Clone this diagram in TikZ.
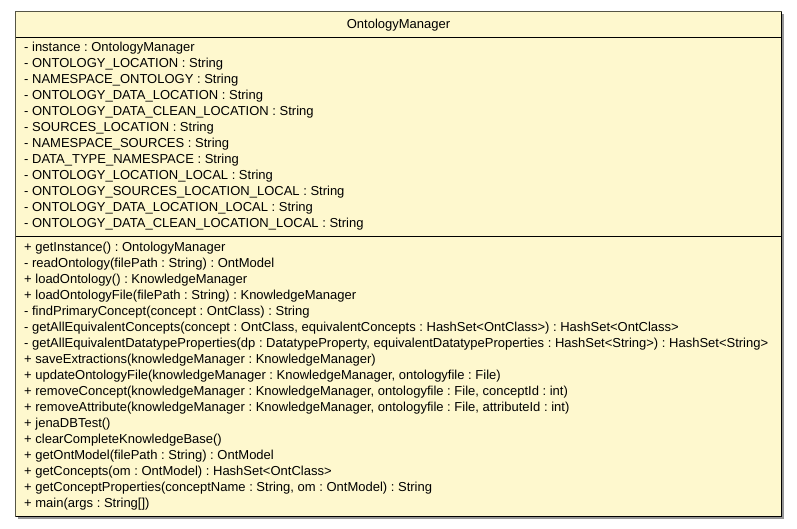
\documentclass[tikz,border=0pt]{standalone}
\usepackage{fontspec}
\setmainfont{Liberation Sans}
\usetikzlibrary{positioning, calc}
\definecolor{classfill}{RGB}{254, 248, 206}
\definecolor{edgeolive}{RGB}{86, 86, 70}
\definecolor{shadowgray}{RGB}{150, 150, 150}
\tikzset{
  member/.style={anchor=base west, inner sep=0pt, font=\fontsize{13}{16}\selectfont\frenchspacing},
  divider/.style={black, line width=1pt},
}

\begin{document}
\begin{tikzpicture}[x=1pt, y=-1pt]
  \useasboundingbox (0,0) rectangle (797,528);

  % Shadow and class box
  \fill[shadowgray] (18,14) rectangle (784,519);
  \node[fill=classfill, inner sep=0pt, minimum width=766pt, minimum height=505pt, anchor=north west] (box) at (15.5,11.5) {};
  \draw[edgeolive, line width=1.6pt] (box.south west) -- (box.north west) -- (box.north east);
  \draw[black, line width=1pt] (box.north east) -- (box.south east) -- (box.south west);

  % Compartments
  \coordinate (cut1) at (15.5,37);
  \coordinate (cut2) at (15.5,236);
  \draw[divider] (box.west |- cut1) -- (box.east |- cut1);
  \draw[divider] (box.west |- cut2) -- (box.east |- cut2);

  % Class name
  \node[member, anchor=base] (title) at (398.5,28) {OntologyManager};

  % Attributes
  \foreach \txt [count=\i from 0] in {
    {- instance : OntologyManager},
    {- ONTOLOGY\_LOCATION : String},
    {- NAMESPACE\_ONTOLOGY : String},
    {- ONTOLOGY\_DATA\_LOCATION : String},
    {- ONTOLOGY\_DATA\_CLEAN\_LOCATION : String},
    {- SOURCES\_LOCATION : String},
    {- NAMESPACE\_SOURCES : String},
    {- DATA\_TYPE\_NAMESPACE : String},
    {- ONTOLOGY\_LOCATION\_LOCAL : String},
    {- ONTOLOGY\_SOURCES\_LOCATION\_LOCAL : String},
    {- ONTOLOGY\_DATA\_LOCATION\_LOCAL : String},
    {- ONTOLOGY\_DATA\_CLEAN\_LOCATION\_LOCAL : String}}
    \node[member] (attr\i) at (24,{51+16*\i}) {\txt};

  % Operations
  \foreach \txt [count=\i from 0] in {
    {+ getInstance() : OntologyManager},
    {- readOntology(filePath : String) : OntModel},
    {+ loadOntology() : KnowledgeManager},
    {+ loadOntologyFile(filePath : String) : KnowledgeManager},
    {- findPrimaryConcept(concept : OntClass) : String},
    {- getAllEquivalentConcepts(concept : OntClass, equivalentConcepts : HashSet<OntClass>) : HashSet<OntClass>},
    {- getAllEquivalentDatatypeProperties(dp : DatatypeProperty, equivalentDatatypeProperties : HashSet<String>) : HashSet<String>},
    {+ saveExtractions(knowledgeManager : KnowledgeManager)},
    {+ updateOntologyFile(knowledgeManager : KnowledgeManager, ontologyfile : File)},
    {+ removeConcept(knowledgeManager : KnowledgeManager, ontologyfile : File, conceptId : int)},
    {+ removeAttribute(knowledgeManager : KnowledgeManager, ontologyfile : File, attributeId : int)},
    {+ jenaDBTest()},
    {+ clearCompleteKnowledgeBase()},
    {+ getOntModel(filePath : String) : OntModel},
    {+ getConcepts(om : OntModel) : HashSet<OntClass>},
    {+ getConceptProperties(conceptName : String, om : OntModel) : String},
    {+ main(args : String[])}}
    \node[member] (oper\i) at (24,{251+16*\i}) {\txt};
\end{tikzpicture}
\end{document}
